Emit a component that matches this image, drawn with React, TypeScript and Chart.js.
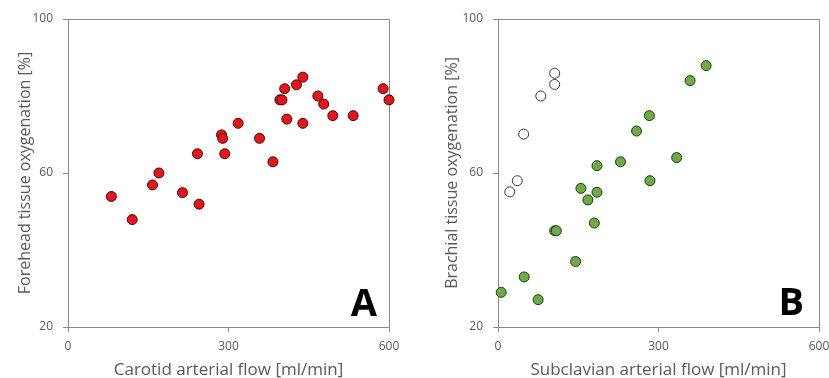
import React, { useEffect, useRef } from "react";
import { Chart, registerables } from "chart.js";
Chart.register(...registerables);

// Panel A: carotid flow vs forehead oxygenation
const carotidFlow = [81, 120, 158, 170, 214, 242, 245, 287, 289, 293, 318, 358, 383, 396, 400, 405, 409, 427, 439, 439, 467, 478, 495, 533, 589, 600];
const foreheadOxygenation = [53.9, 47.9, 56.9, 60, 54.9, 65, 51.9, 69.9, 69, 65, 72.9, 69, 62.9, 79, 79, 81.9, 74, 82.9, 84.9, 72.9, 80, 77.9, 74.9, 74.9, 81.9, 79];

// Panel B: subclavian flow vs brachial oxygenation (filled green)
const subclavianFlow = [6, 49, 75, 106, 109, 145, 155, 168, 180, 185, 185, 229, 259, 283, 284, 334, 359, 389];
const brachialOxygenation = [29, 33, 27.1, 45, 45, 37, 56, 53, 47, 55, 61.9, 62.9, 70.9, 74.9, 58, 64, 84, 87.9];

// Panel B: hollow points
const subclavianFlowOpen = [22, 36, 48, 80, 106, 106];
const brachialOxygenationOpen = [55.1, 58, 70.1, 80, 83, 85.9];

const xTicks = [0, 300, 600];
const yTicks = [20, 60, 100];

const FONT = "'Open Sans', sans-serif";
const TEXT = "#595959";
const AXIS = "#8a8a8a";

const toPoints = (xs: number[], ys: number[]) => xs.map((x, i) => ({ x, y: ys[i] }));

const framePlugin = {
  id: "frame",
  beforeDatasetsDraw(chart: any) {
    const { ctx, chartArea: a } = chart;
    ctx.save();
    ctx.strokeStyle = AXIS;
    ctx.lineWidth = 1;
    ctx.beginPath();
    ctx.moveTo(a.left, a.top + 0.5);
    ctx.lineTo(a.right + 0.5, a.top + 0.5);
    ctx.lineTo(a.right + 0.5, a.bottom);
    ctx.stroke();
    ctx.restore();
  },
};

const letterPlugin = {
  id: "panelLetter",
  afterDraw(chart: any, _args: any, opts: any) {
    const { ctx, chartArea: a } = chart;
    ctx.save();
    ctx.fillStyle = "#000";
    ctx.font = `700 38px ${FONT}`;
    ctx.textAlign = "right";
    ctx.textBaseline = "alphabetic";
    ctx.fillText(opts.text, a.right - opts.dx, a.bottom - opts.dy);
    ctx.restore();
  },
};

type PanelProps = {
  left: number;
  width: number;
  yWidth: number;
  padRight: number;
  yTitlePad: number;
  xTitle: string;
  yTitle: string;
  letter: string;
  letterDx: number;
  letterDy: number;
  datasets: any[];
};

function Panel(p: PanelProps) {
  const ref = useRef<HTMLCanvasElement>(null);
  useEffect(() => {
    document.body.style.overflow = "hidden";
    const chart = new Chart(ref.current as HTMLCanvasElement, {
      type: "scatter",
      data: { datasets: p.datasets },
      plugins: [framePlugin, letterPlugin],
      options: {
        responsive: false,
        animation: false,
        layout: { padding: { top: 19, right: p.padRight, bottom: 0, left: 0 } },
        plugins: {
          legend: { display: false },
          tooltip: { enabled: false },
          panelLetter: { text: p.letter, dx: p.letterDx, dy: p.letterDy },
        } as any,
        scales: {
          x: {
            type: "linear",
            min: 0,
            max: 600,
            afterFit: (s: any) => {
              s.height = 51;
              s.paddingLeft = 0;
              s.paddingRight = 0;
            },
            afterBuildTicks: (s: any) => {
              s.ticks = xTicks.map((v) => ({ value: v }));
            },
            ticks: { color: TEXT, font: { family: FONT, size: 12 }, padding: 7, maxRotation: 0, autoSkip: false },
            grid: { drawOnChartArea: false, drawTicks: true, tickLength: 5, color: AXIS },
            border: { color: AXIS, width: 1 },
            title: { display: true, text: p.xTitle, color: TEXT, font: { family: FONT, size: 17 }, padding: { top: 0, bottom: -2 } },
          },
          y: {
            type: "linear",
            min: 20,
            max: 100,
            afterFit: (s: any) => {
              s.width = p.yWidth;
              s.paddingTop = 0;
              s.paddingBottom = 0;
            },
            afterBuildTicks: (s: any) => {
              s.ticks = yTicks.map((v) => ({ value: v }));
            },
            ticks: { color: TEXT, font: { family: FONT, size: 12 }, padding: 10, autoSkip: false },
            grid: { drawOnChartArea: false, drawTicks: true, tickLength: 5, color: AXIS },
            border: { color: AXIS, width: 1 },
            title: { display: true, text: p.yTitle, color: TEXT, font: { family: FONT, size: 16 }, padding: { top: p.yTitlePad, bottom: 0 } },
          },
        },
      } as any,
    });
    return () => chart.destroy();
  }, []);
  return (
    <canvas
      ref={ref}
      width={p.width}
      height={378}
      style={{ position: "absolute", left: p.left, top: 0, width: p.width, height: 378 }}
    />
  );
}

export default function App() {
  const red = {
    data: toPoints(carotidFlow, foreheadOxygenation),
    backgroundColor: "#e8141c",
    borderColor: "#4a0505",
    borderWidth: 1,
    pointRadius: 5,
    clip: false,
  };
  const green = {
    data: toPoints(subclavianFlow, brachialOxygenation),
    backgroundColor: "#6eab45",
    borderColor: "#1f3a10",
    borderWidth: 1,
    pointRadius: 5,
    clip: false,
  };
  const open = {
    data: toPoints(subclavianFlowOpen, brachialOxygenationOpen),
    backgroundColor: "#ffffff",
    borderColor: "#3a3a3a",
    borderWidth: 1,
    pointRadius: 5,
    clip: false,
  };
  return (
    <div>
      <Panel
        left={0}
        width={415}
        yWidth={68}
        padRight={26}
        yTitlePad={16}
        xTitle="Carotid arterial flow [ml/min]"
        yTitle="Forehead tissue oxygenation [%]"
        letter="A"
        letterDx={12}
        letterDy={11}
        datasets={[red]}
      />
      <Panel
        left={415}
        width={414}
        yWidth={83}
        padRight={10}
        yTitlePad={28}
        xTitle="Subclavian arterial flow [ml/min]"
        yTitle="Brachial tissue oxygenation [%]"
        letter="B"
        letterDx={15}
        letterDy={12}
        datasets={[open, green]}
      />
    </div>
  );
}
